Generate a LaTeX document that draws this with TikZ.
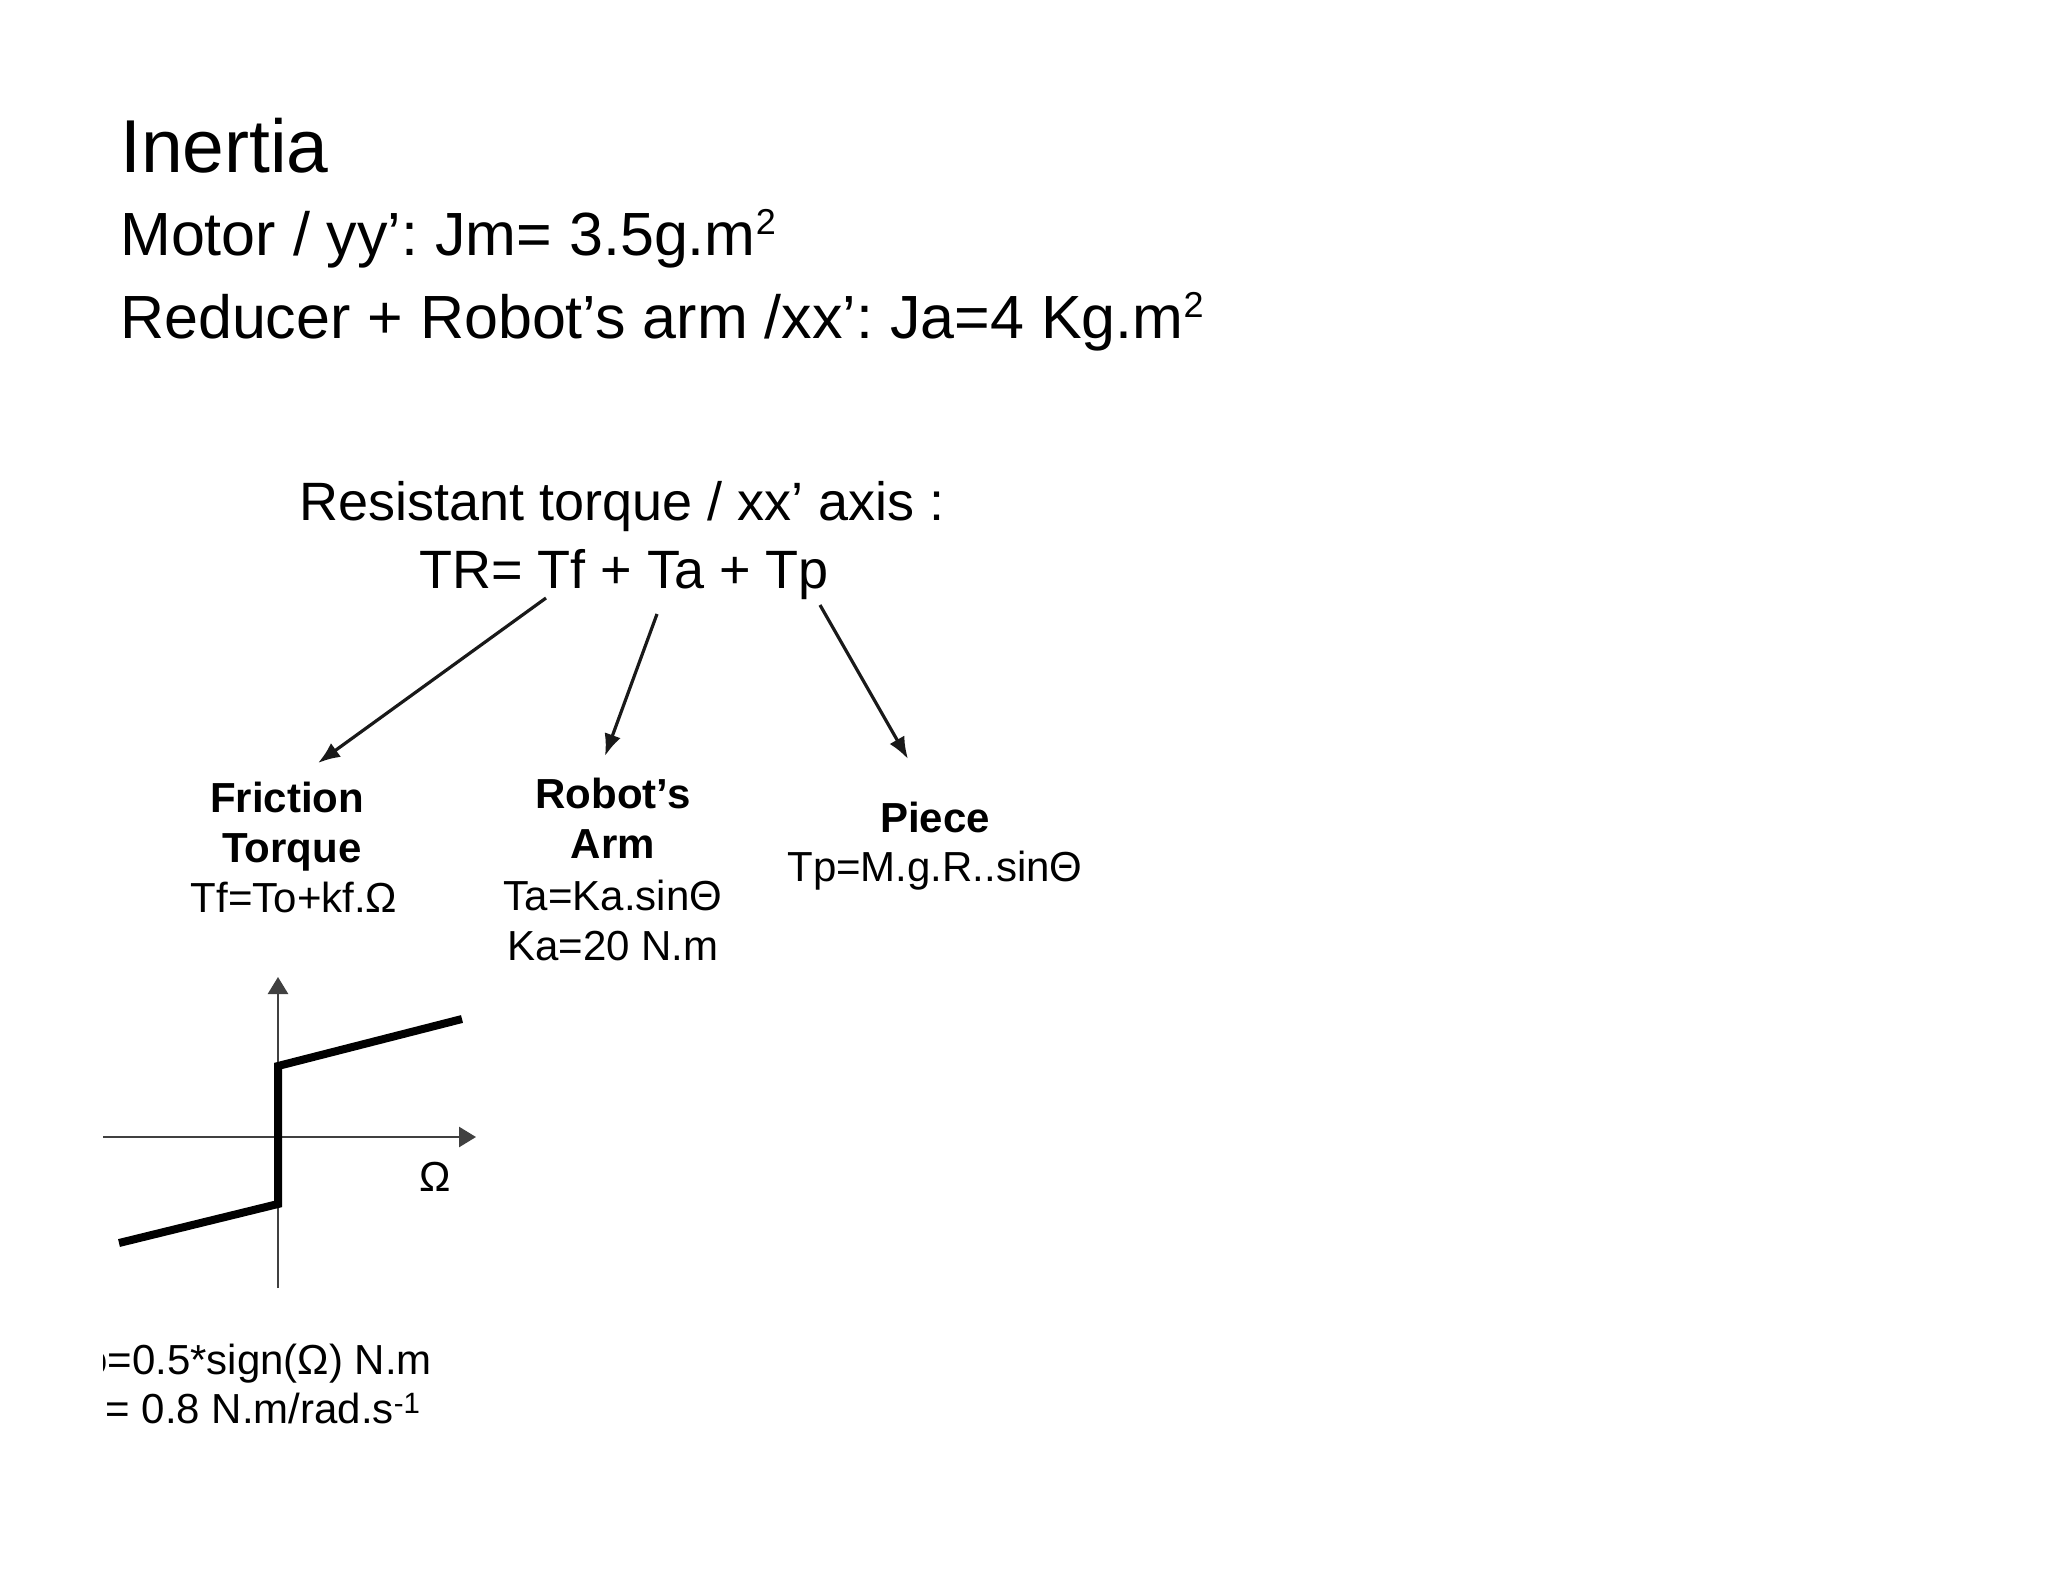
\documentclass[tikz,border=0pt]{standalone}
\usepackage{fontspec}
\setmainfont{Liberation Sans}
\usetikzlibrary{arrows.meta}
\frenchspacing
\newcommand{\mysq}{\raisebox{0.34em}{\fontsize{36}{36}\selectfont 2}}
\begin{document}
\begin{tikzpicture}[x=1pt,y=-1pt,
  txt/.style={anchor=base, inner sep=0pt, font=\fontsize{#1}{#1}\selectfont},
  ltxt/.style={anchor=base west, inner sep=0pt, font=\fontsize{#1}{#1}\selectfont},
  btxt/.style={anchor=base, inner sep=0pt, font=\fontsize{#1}{#1}\selectfont\bfseries},
  conn/.style={draw=black!90, line width=3.2pt, -{Latex[length=22pt,width=17pt]}},
  axisline/.style={draw=black!75, line width=2.6pt, -{Triangle[length=17pt,width=20pt]}},
  curve/.style={draw=black, line width=8pt, line join=miter, line cap=butt}]
\fill[white] (0,0) rectangle (2048,1582);
\useasboundingbox (0,0) rectangle (2048,1582);

% heading
\node[ltxt=75] (title) at (120,172) {Inertia};
\node[ltxt=61] (motor) at (120,255) {Motor / yy’: Jm= 3.5g.m\mysq};
\node[ltxt=61] (reducer) at (120,338) {Reducer + Robot’s arm /xx’: Ja=4 Kg.m\mysq};

% resistant torque
\node[txt=54] (res) at (622,520) {Resistant torque / xx’ axis :};
\node[txt=54] (tr) at (624,588) {TR= Tf + Ta + Tp};

% labels
\node[btxt=42] (fric1) at (287,812) {Friction};
\node[btxt=42] (fric2) at (292,862) {Torque};
\node[txt=42]  (fric3) at (294,912) {Tf=To+kf.Ω};

\node[btxt=42] (arm1) at (613,808) {Robot’s};
\node[btxt=42] (arm2) at (613,858) {Arm};
\node[txt=42]  (arm3) at (613,910) {Ta=Ka.sinΘ};
\node[txt=42]  (arm4) at (613,960) {Ka=20 N.m};

\node[btxt=42] (piece1) at (935,832) {Piece};
\node[txt=42]  (piece2) at (935,881) {Tp=M.g.R..sinΘ};

% connectors
\coordinate (sTf) at (546,598);
\coordinate (sTa) at (657,614);
\coordinate (sTp) at (820,605);
\coordinate (eTf) at (318,763);
\coordinate (eTa) at (605,756);
\coordinate (eTp) at (908,759);
\draw[conn] (sTf) -- (eTf);
\draw[conn] (sTa) -- (eTa);
\draw[conn] (sTp) -- (eTp);

% friction chart
\coordinate (vb) at (278,1288);
\coordinate (vt) at (278,977);
\coordinate (hl) at (103,1137);
\coordinate (hr) at (476,1137);
\draw[axisline] (vb) -- (vt);
\draw[axisline] (hl) -- (hr);
\coordinate (c1) at (119,1243);
\coordinate (c2) at (278,1204);
\coordinate (c3) at (278,1066);
\coordinate (c4) at (462,1019);
\draw[curve] (c1) -- (c2) -- (c3) -- (c4);
\node[anchor=center, inner sep=0pt, font=\fontsize{42}{42}\selectfont] (omega) at (435,1177) {Ω};

% clipped parameter text
\begin{scope}
\clip (103,1300) rectangle (700,1460);
\node[ltxt=42] (to) at (63,1374) {To=0.5*sign(Ω) N.m};
\node[ltxt=42] (kf) at (61,1423) {kf = 0.8 N.m/rad.s\textsuperscript{-1}};
\end{scope}
\end{tikzpicture}
\end{document}
